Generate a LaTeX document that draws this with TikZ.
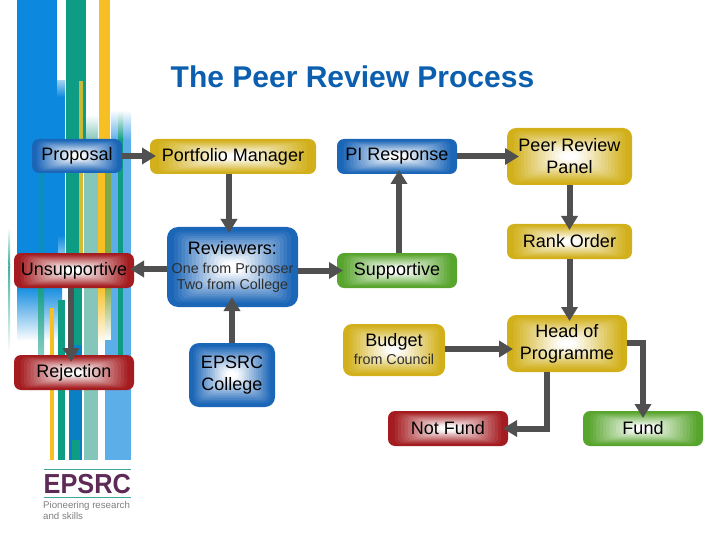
\documentclass[tikz,border=0pt]{standalone}
\usepackage{fontspec}
\setmainfont{Liberation Sans}
\usetikzlibrary{arrows.meta,calc,fadings}
\definecolor{cblue}{HTML}{1C66B8}
\definecolor{cyel}{HTML}{D2B01C}
\definecolor{cred}{HTML}{A41C20}
\definecolor{cgreen}{HTML}{58A52E}
\definecolor{cline}{HTML}{505050}
\definecolor{ctitle}{HTML}{0B5FAE}
\definecolor{sblue}{HTML}{0C88DE}
\definecolor{sgreen}{HTML}{0F9C84}
\definecolor{syel}{HTML}{F6C024}
\definecolor{steal}{HTML}{84C6BA}
\definecolor{slight}{HTML}{5CAEE8}
\definecolor{sdeep}{HTML}{0A7FC4}
\definecolor{solive}{HTML}{7FA84A}
\definecolor{logop}{HTML}{5E2A56}
\definecolor{logot}{HTML}{3FA7A0}
\newcommand{\smalltxt}{\fontsize{14.3}{16}\selectfont\color{black!82}}
\tikzset{
  gbox/.style={rectangle,rounded corners=7pt,inner sep=0pt,outer sep=0pt,align=center,
    text=black,font=\fontsize{18}{22}\selectfont,fill=#1,
    path picture={
      \foreach \gi [evaluate=\gi as \gt using \gi*0.055,
                    evaluate=\gi as \gm using {min(100,max(0,108-\gi*6.9))}] in {1,...,16}{
        \fill[#1!\gm!white,rounded corners=6pt]
          ($(path picture bounding box.south west)!\gt!(path picture bounding box.center)$)
          rectangle
          ($(path picture bounding box.north east)!\gt!(path picture bounding box.center)$);
      }}},
  conn/.style={line width=6pt,color=cline,-{Triangle[width=16pt,length=14pt]}},
  into/.style={shorten >=-#1pt}
}
\newcommand{\stripe}[5]{\fill[#5] (#1,#3) rectangle (#2,#4);}
\begin{document}
\begin{tikzpicture}[x=1pt,y=-1pt]
\useasboundingbox (0,0) rectangle (720,540);
\fill[white] (0,0) rectangle (720,540);
% --- decorative stripes, top section
\stripe{17}{57}{0}{82}{sblue}
\stripe{17}{65}{82}{255}{sblue}
\shade[top color=slight!60!white,bottom color=sblue] (57,81) rectangle (65,97);
\stripe{66}{86}{0}{140}{sgreen}
\stripe{79}{83}{81}{140}{syel!80!sgreen}
\stripe{99}{110}{0}{140}{syel}
\shade[top color=white,bottom color=slight] (111,110) rectangle (131,140);
\shade[top color=white,bottom color=sgreen] (118,110) rectangle (123,140);
\shade[top color=white,bottom color=steal] (86,115) rectangle (98,140);
% --- middle section
\stripe{17}{65}{140}{255}{sblue}
\shade[left color=sblue,right color=sblue!60!sgreen] (36,140) rectangle (41,255);
\shade[left color=sblue!60!sgreen,right color=sblue] (41,140) rectangle (46,255);
\stripe{66}{79}{140}{255}{sgreen}
\stripe{79}{83}{140}{255}{syel!85!sgreen}
\stripe{84}{98}{140}{255}{steal}
\stripe{98}{105}{140}{255}{syel}
\stripe{105}{111}{140}{255}{solive}
\stripe{111}{131}{140}{255}{slight}
\stripe{118}{123}{140}{255}{sgreen}
\shade[top color=sblue,bottom color=white,opacity=.9] (58,235) rectangle (65,270);
% --- lower section
\shade[top color=sblue,bottom color=white] (17,285) rectangle (38,341);
\shade[top color=sblue,bottom color=white] (44,285) rectangle (62,341);
\shade[top color=sgreen,bottom color=sgreen!50!white] (38,285) rectangle (44,355);
\stripe{50}{54}{308}{460}{syel}
\stripe{58}{65}{300}{460}{sgreen}
\stripe{69}{82}{285}{460}{sdeep}
\stripe{72}{82}{285}{345}{sgreen}
\stripe{72}{80}{440}{460}{sgreen}
\stripe{84}{98}{285}{460}{steal}
\shade[top color=syel,bottom color=white] (98,285) rectangle (105,345);
\shade[top color=solive,bottom color=white] (105,285) rectangle (111,340);
\stripe{105}{131}{340}{460}{slight}
\stripe{111}{131}{285}{340}{slight}
\stripe{118}{123}{285}{355}{sgreen}
\shade[top color=white,bottom color=sgreen!80!white] (8.5,228) rectangle (10,265);
\shade[top color=sgreen!80!white,bottom color=white] (8.5,265) rectangle (10,352);
% --- logo
\draw[logot,line width=1pt] (44,469.5) -- (131,469.5);
\draw[logot,line width=1pt] (44,497.5) -- (131,497.5);
\node[anchor=west,inner sep=0pt,text=logop,xscale=.92,font=\fontsize{27.5}{28}\selectfont\bfseries] (logo) at (43.5,484) {EPSRC};
\node[anchor=west,inner sep=0pt,text=black!50,font=\fontsize{9.7}{10}\selectfont] (logoa) at (43,506) {Pioneering research};
\node[anchor=west,inner sep=0pt,text=black!50,font=\fontsize{9.7}{10}\selectfont] (logob) at (43,516) {and skills};
% --- title
\node[text=ctitle,font=\fontsize{30}{34}\selectfont\bfseries,inner sep=0pt] (title) at (352.5,77) {The Peer Review Process};
% --- boxes
\node[gbox=cblue,minimum width=90pt,minimum height=34pt] (prop) at (77,156) {\raisebox{-2pt}{Proposal}};
\node[gbox=cyel,minimum width=166pt,minimum height=35pt] (pm) at (233,156.5) {\raisebox{-1pt}{Portfolio Manager}};
\node[gbox=cblue,minimum width=120pt,minimum height=35pt] (pi) at (397,156.5) {\raisebox{-1pt}{PI Response}};
\node[gbox=cyel,minimum width=125pt,minimum height=57pt,rounded corners=9pt] (peer) at (569.5,156.5) {Peer Review\\Panel};
\node[gbox=cyel,minimum width=125pt,minimum height=35pt] (rank) at (569.5,241.5) {\raisebox{2pt}{Rank Order}};
\node[gbox=cgreen,minimum width=120pt,minimum height=35pt] (supp) at (397,270.5) {\raisebox{1pt}{Supportive}};
\node[gbox=cred,minimum width=120pt,minimum height=35pt] (unsup) at (74,270.5) {Unsupportive};
\node[gbox=cblue,minimum width=131pt,minimum height=80pt,rounded corners=11pt] (rev) at (232.5,267) {Reviewers:\\[-3pt]\smalltxt One from Proposer\\[-6pt]\smalltxt Two from College};
\node[gbox=cyel,minimum width=102pt,minimum height=52pt,rounded corners=9pt] (budget) at (394,350) {\raisebox{1.5pt}{Budget}\\[-4pt]\smalltxt\raisebox{1.5pt}{from Council}};
\node[gbox=cyel,minimum width=120pt,minimum height=57pt,rounded corners=9pt] (head) at (567,343.5) {Head of\\Programme};
\node[gbox=cred,minimum width=120pt,minimum height=35pt] (rej) at (74,372.5) {Rejection};
\node[gbox=cblue,minimum width=86pt,minimum height=64pt,rounded corners=10pt] (coll) at (232,375) {EPSRC\\College};
\node[gbox=cred,minimum width=120pt,minimum height=35pt] (nf) at (448,428.5) {Not Fund};
\node[gbox=cgreen,minimum width=120pt,minimum height=35pt] (fund) at (643,428.5) {Fund};
% --- connectors
\coordinate (revw) at ([yshift=-2pt]rev.west);
\coordinate (budge) at ([yshift=1pt]budget.east);
\draw[conn,into=4] (revw) -- (unsup.east |- revw);
\draw[conn,into=6] (prop.east) -- (pm.west |- prop.east);
\draw[conn,into=6] ([xshift=-4pt]pm.south) -- ([xshift=-3.5pt]rev.north);
\draw[conn,into=6] (rev.east |- supp.west) -- (supp.west);
\draw[conn,into=10] (coll.north) -- (rev.south -| coll.north);
\draw[conn,into=7] ([xshift=-3pt]unsup.south) -- ([xshift=-3pt]rej.north);
\draw[conn,into=4] ([xshift=2pt]supp.north) -- ([xshift=2pt]pi.south);
\draw[conn,into=12] (pi.east) -- (peer.west |- pi.east);
\draw[conn,into=6] (peer.south) -- (rank.north);
\draw[conn,into=6] (rank.south) -- (rank.south |- head.north);
\draw[conn,into=6] (budge) -- (head.west |- budge);
\draw[conn,into=5] ([xshift=-20pt]head.south) |- (nf.east);
\draw[conn,into=7] ([yshift=0.5pt]head.east) -| (fund.north);
\end{tikzpicture}
\end{document}
